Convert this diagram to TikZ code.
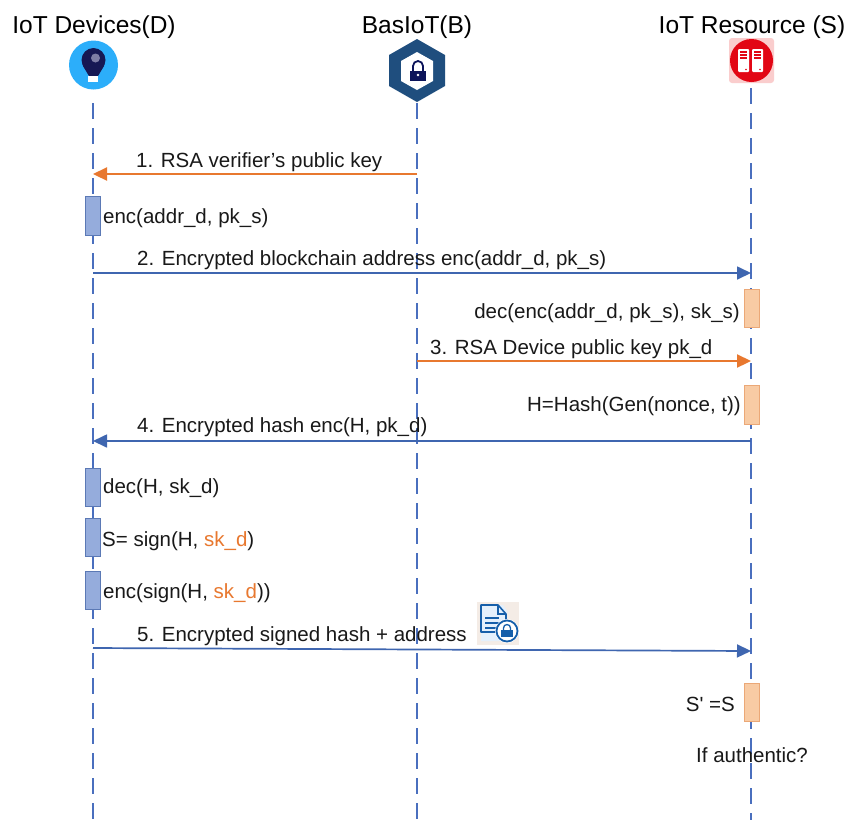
\documentclass[tikz,border=0pt]{standalone}
\usepackage{fontspec}
\setmainfont{Liberation Sans}
\newfontfamily\plainfont{Liberation Sans}
\usetikzlibrary{arrows.meta}
\definecolor{lifeblue}{HTML}{4A6FBE}
\definecolor{msgblue}{HTML}{3F66B0}
\definecolor{msgorange}{HTML}{E8782F}
\definecolor{barblue}{HTML}{95ACDC}
\definecolor{barblueline}{HTML}{5B79B5}
\definecolor{barorange}{HTML}{F8CBA4}
\definecolor{barorangeline}{HTML}{EBA877}
\definecolor{keyorange}{HTML}{E8782F}
\definecolor{navyicon}{HTML}{1F4E7E}
\tikzset{
  x=1pt,y=-1pt,
  head/.style={font=\fontsize{24.5}{27}\selectfont,inner sep=0pt},
  lbl/.style={font=\fontsize{20.5}{24}\selectfont,inner sep=0pt,text=black!90},
  lifeline/.style={draw=lifeblue,line width=1.5pt,dash pattern=on 16pt off 9pt},
  msgb/.style={draw=msgblue,line width=1.7pt,-{Stealth[length=14pt,width=13pt,inset=0pt]}},
  msgo/.style={draw=msgorange,line width=2.2pt,-{Stealth[length=14pt,width=13pt,inset=0pt]}},
  bard/.style={draw=barblueline,fill=barblue,line width=0.8pt,minimum width=14.5pt,inner sep=0pt},
  bars/.style={draw=barorangeline,fill=barorange,line width=0.8pt,minimum width=15pt,inner sep=0pt},
}
\begin{document}
\begin{tikzpicture}
\useasboundingbox (0,0) rectangle (859,820);
\fill[white] (0,0) rectangle (859,820);
% headers
\node[head] (hd) at (94,27) {IoT Devices(D)};
\node[head] (hb) at (417,27) {BasIoT(B)};
\node[head] (hs) at (752,27) {IoT Resource (S)};
% lifeline anchors
\coordinate (dtop) at (93,103); \coordinate (dbot) at (93,820);
\coordinate (btop) at (417,103); \coordinate (bbot) at (417,820);
\coordinate (stop) at (751,88); \coordinate (sbot) at (751,820);
\draw[lifeline] (dtop) -- (dbot);
\draw[lifeline] (btop) -- (bbot);
\draw[lifeline] (stop) -- (sbot);
% D icon: bulb
\fill[fill={rgb,255:red,44;green,174;blue,250}] (93.5,65) circle (24.5);
\fill[fill={rgb,255:red,22;green,24;blue,84}] (93.5,60) circle (12);
\fill[fill={rgb,255:red,22;green,24;blue,84}] (83,66) -- (104,66) -- (98,76) -- (89,76) -- cycle;
\fill[fill={rgb,255:red,125;green,125;blue,165}] (95.5,58) circle (4.5);
\fill[white] (87.5,76) rectangle (98,82);
% B icon: hexagon with lock
\fill[navyicon] (417,39) -- (445,55) -- (445,86) -- (417,102) -- (389,86) -- (389,55) -- cycle;
\fill[white] (417,52) -- (433,61) -- (433,81) -- (417,90) -- (401,81) -- (401,61) -- cycle;
\draw[fill=none,draw={rgb,255:red,12;green,20;blue,90},line width=1.8pt] (413,72) -- (413,66) arc[start angle=180,end angle=360,radius=5] -- (423,72);
\fill[fill={rgb,255:red,12;green,20;blue,90}] (410,71) rectangle (426,81);
\fill[white] (418,75) circle (1.4);
% S icon: servers
\fill[fill={rgb,255:red,250;green,205;blue,205},rounded corners=3pt] (729,38) rectangle (774,83);
\fill[fill={rgb,255:red,226;green,6;blue,20}] (751.5,60.5) circle (21.5);
\fill[white,rounded corners=1pt] (738,49) rectangle (749,72);
\fill[white,rounded corners=1pt] (752,49) rectangle (763,72);
\foreach \yy in {51,54,57}{
  \fill[fill={rgb,255:red,226;green,6;blue,20}] (740,\yy) rectangle (747,\yy+1.6);
  \fill[fill={rgb,255:red,226;green,6;blue,20}] (754,\yy) rectangle (761,\yy+1.6);
}
\fill[fill={rgb,255:red,226;green,6;blue,20}] (746,69.5) circle (0.9);
\fill[fill={rgb,255:red,226;green,6;blue,20}] (760,69.5) circle (0.9);
% activation bars
\node[bard,minimum height=39pt] (d1) at (93,215.5) {};
\node[bard,minimum height=38pt] (d2) at (93,487) {};
\node[bard,minimum height=38pt] (d3) at (93,537) {};
\node[bard,minimum height=38pt] (d4) at (93,590) {};
\node[bars,minimum height=38pt] (s1) at (751.5,308) {};
\node[bars,minimum height=39pt] (s2) at (751.5,404.5) {};
\node[bars,minimum height=38pt] (s3) at (751.5,702.5) {};
% message anchors
\coordinate (m1s) at (417,174); \coordinate (m1e) at (93,174);
\coordinate (m2s) at (93,273);  \coordinate (m2e) at (751,273);
\coordinate (m3s) at (417,361); \coordinate (m3e) at (751,361);
\coordinate (m4s) at (751,441); \coordinate (m4e) at (93,441);
\coordinate (m5s) at (93,648);  \coordinate (m5e) at (751,651);
\draw[msgo] (m1s) -- (m1e);
\draw[msgb] (m2s) -- (m2e);
\draw[msgo] (m3s) -- (m3e);
\draw[msgb] (m4s) -- (m4e);
\draw[msgb] (m5s) -- (m5e);
% labels
\node[lbl,anchor=west] (l1) at (136,162) {1. RSA verifier's public key};
\node[lbl,anchor=west] (a1) at (103,218) {enc(addr\_d, pk\_s)};
\node[lbl,anchor=west] (l2) at (137,260) {2. Encrypted blockchain address enc(addr\_d, pk\_s)};
\node[lbl,anchor=east] (a2) at (740,313) {dec(enc(addr\_d, pk\_s), sk\_s)};
\node[lbl,anchor=west] (l3) at (430,349) {3. RSA Device public key pk\_d};
\node[lbl,anchor=east] (a3) at (741,406) {H=Hash(Gen(nonce, t))};
\node[lbl,anchor=west] (l4) at (137,427) {4. Encrypted hash enc(H, pk\_d)};
\node[lbl,anchor=west] (a4) at (103,488) {dec(H, sk\_d)};
\node[lbl,anchor=west] (a5) at (102,541) {S= sign(H, \textcolor{keyorange}{sk\_d})};
\node[lbl,anchor=west] (a6) at (103,593) {enc(sign(H, \textcolor{keyorange}{sk\_d}))};
\node[lbl,anchor=west] (l5) at (137,636) {5. Encrypted signed hash + address};
\node[lbl,anchor=east] (a7) at (735,704) {\plainfont S' =S};
\node[lbl,anchor=west] (a8) at (696,755) {If authentic?};
% document icon
\fill[fill={rgb,255:red,244;green,236;blue,230}] (477,602) rectangle (519,645);
\fill[fill={rgb,255:red,228;green,240;blue,252}] (481,605) -- (503,605) -- (507,611) -- (507,641) -- (481,641) -- cycle;
\draw[draw={rgb,255:red,22;green,95;blue,170},line width=1.6pt,line join=round] (504,632) -- (481,632) -- (481,605) -- (498,605) -- (506,614) -- (506,620);
\draw[draw={rgb,255:red,22;green,95;blue,170},line width=1.2pt] (498,605) -- (498,614) -- (506,614);
\foreach \yy in {618,623,628}{
  \draw[draw={rgb,255:red,22;green,95;blue,170},line width=1.4pt] (485,\yy) -- (499,\yy);
}
\fill[white] (507,631) circle (12);
\draw[draw={rgb,255:red,22;green,95;blue,170},fill=white,line width=1.8pt] (507,631) circle (10.5);
\fill[fill={rgb,255:red,22;green,95;blue,170}] (501,630) rectangle (513,637);
\draw[draw={rgb,255:red,22;green,95;blue,170},line width=1.3pt] (503.5,630) -- (503.5,628) arc[start angle=180,end angle=360,radius=3.5] -- (510.5,630);
\end{tikzpicture}
\end{document}
